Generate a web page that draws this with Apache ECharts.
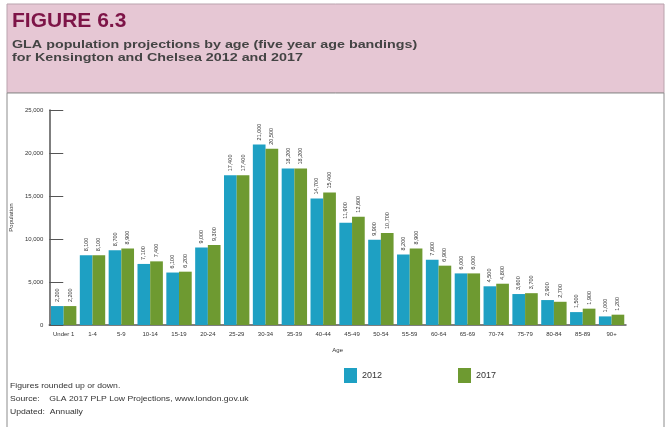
<!DOCTYPE html>
<html>
<head>
<meta charset="utf-8">
<script src="https://cdn.jsdelivr.net/npm/echarts/dist/echarts.min.js"></script>
<style>
  html, body { margin: 0; padding: 0; background: #fff; }
  #chart { width: 671px; height: 427px; }
</style>
</head>
<body>
<div id="chart"></div>
<script>
// age bands
var ageBands = ['Under 1', '1-4', '5-9', '10-14', '15-19', '20-24', '25-29', '30-34', '35-39', '40-44',
  '45-49', '50-54', '55-59', '60-64', '65-69', '70-74', '75-79', '80-84', '85-89', '90+'];

// population, 2012 and 2017
var pop2012 = [2200, 8100, 8700, 7100, 6100, 9000, 17400, 21000, 18200, 14700,
  11900, 9900, 8200, 7600, 6000, 4500, 3600, 2900, 1500, 1000];
var pop2017 = [2200, 8100, 8900, 7400, 6200, 9300, 17400, 20500, 18200, 15400,
  12600, 10700, 8900, 6900, 6000, 4800, 3700, 2700, 1900, 1200];

var yTicks = [0, 5000, 10000, 15000, 20000, 25000];

var fmt = function (v) { return Number(v).toLocaleString('en-US'); };

var chart = echarts.init(document.getElementById('chart'));

var barLabel = {
  show: true,
  position: 'top',
  rotate: 90,
  align: 'left',
  verticalAlign: 'middle',
  distance: 4,
  fontSize: 5.5,
  color: '#333',
  fontFamily: 'Liberation Sans',
  formatter: function (p) { return fmt(p.value); }
};

// header / footer text, a bit wide like the print
function txt(x, y, s, font, fill, sx) {
  return { type: 'text', x: x, y: y, scaleX: sx, z: 5,
    style: { x: 0, y: 0, text: s, font: font, fill: fill, verticalAlign: 'top', lineHeight: 13 } };
}

var option = {
  animation: false,
  backgroundColor: '#fff',
  textStyle: { fontFamily: 'Liberation Sans' },
  graphic: [
    { type: 'rect', z: -10, shape: { x: 7, y: 4, width: 657, height: 89 },
      style: { fill: '#e6c7d4', stroke: '#b9a3ad', lineWidth: 1 } },
    { type: 'rect', z: -10, shape: { x: 7, y: 93, width: 657, height: 340 },
      style: { fill: '#fff', stroke: '#8c8c8c', lineWidth: 1 } },
    txt(12, 15, 'FIGURE 6.3', 'bold 20px "Liberation Sans"', '#7d1447', 1.05),
    txt(12, 38, 'GLA population projections by age (five year age bandings)\nfor Kensington and Chelsea 2012 and 2017',
      'bold 11px "Liberation Sans"', '#444', 1.3),
    txt(10, 379, 'Figures rounded up or down.', '7.5px "Liberation Sans"', '#333', 1.15),
    txt(10, 392, 'Source:    GLA 2017 PLP Low Projections, www.london.gov.uk', '7.5px "Liberation Sans"', '#333', 1.15),
    txt(10, 405, 'Updated:  Annually', '7.5px "Liberation Sans"', '#333', 1.15)
  ],
  legend: {
    left: 339,
    top: 363,
    itemWidth: 13,
    itemHeight: 15,
    itemGap: 76,
    icon: 'rect',
    textStyle: { fontSize: 9, color: '#333' },
    data: ['2012', '2017']
  },
  grid: { left: 48, right: 45, top: 110, bottom: 102, containLabel: false },
  xAxis: {
    type: 'category',
    data: ageBands,
    name: 'Age',
    nameLocation: 'middle',
    nameGap: 22,
    nameTextStyle: { fontSize: 6, color: '#333' },
    axisLine: { lineStyle: { color: '#555', width: 1.5 } },
    axisTick: { show: false },
    axisLabel: { fontSize: 6, color: '#333', interval: 0, margin: 6 }
  },
  yAxis: {
    type: 'value',
    min: 0,
    max: 25000,
    interval: 5000,
    name: 'Population',
    nameLocation: 'middle',
    nameGap: 28,
    nameTextStyle: { fontSize: 6, color: '#333' },
    axisLine: { show: true, lineStyle: { color: '#555', width: 1.5 } },
    axisTick: { show: true, inside: true, length: 14, lineStyle: { color: '#555' } },
    axisLabel: { fontSize: 6, color: '#333', margin: 6, formatter: function (v) { return yTicks.indexOf(v) >= 0 ? fmt(v) : ''; } },
    splitLine: { show: false }
  },
  series: [
    { name: '2012', type: 'bar', data: pop2012, barGap: '0%', barCategoryGap: '12%',
      itemStyle: { color: '#1ea0c3' }, label: barLabel },
    { name: '2017', type: 'bar', data: pop2017,
      itemStyle: { color: '#6e9a31' }, label: barLabel }
  ]
};

chart.setOption(option);
</script>
</body>
</html>
